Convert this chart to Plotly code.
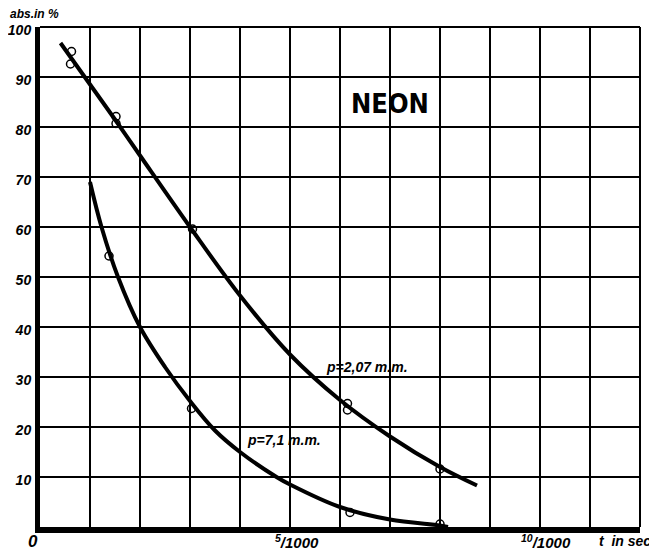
import plotly.graph_objects as go

# ---- data (x in 1/1000 s, y in % absorption) ----
curve_207_x = [0.41, 1.5, 2.0, 3.0, 4.0, 5.0, 6.0, 7.0, 8.0, 8.74]
curve_207_y = [96.8, 81.5, 74.3, 60.0, 46.3, 34.5, 25.4, 18.1, 12.0, 8.3]
pts_207_x = [0.63, 0.61, 1.52, 1.52, 3.05, 6.15, 6.15, 8.0]
pts_207_y = [95.1, 92.6, 82.1, 80.7, 59.6, 24.7, 23.4, 11.6]

curve_71_x = [1.0, 1.23, 1.56, 2.0, 2.5, 3.0, 3.5, 4.0, 4.73, 5.0, 6.0, 7.0, 8.0, 8.16]
curve_71_y = [69.0, 60.0, 50.0, 40.0, 32.0, 25.2, 19.3, 15.0, 10.0, 8.5, 4.0, 1.5, 0.3, 0.0]
pts_71_x = [1.38, 3.03, 6.2, 8.0]
pts_71_y = [54.2, 23.7, 2.9, 0.6]

y_tick_vals = [10, 20, 30, 40, 50, 60, 70, 80, 90, 100]
y_tick_text = [str(v) for v in y_tick_vals]
x_tick_vals = [0, 5, 10]
x_tick_text = ["0", "<sup>5</sup>/1000", "<sup>10</sup>/1000"]

FONT = "Liberation Sans"

fig = go.Figure()
for cx, cy in [(curve_207_x, curve_207_y), (curve_71_x, curve_71_y)]:
    fig.add_trace(go.Scatter(x=cx, y=cy, mode="lines",
                             line=dict(color="black", width=4, shape="spline", smoothing=1.0),
                             hoverinfo="skip", showlegend=False))
for px, py in [(pts_207_x, pts_207_y), (pts_71_x, pts_71_y)]:
    fig.add_trace(go.Scatter(x=px, y=py, mode="markers",
                             marker=dict(symbol="circle-open", size=8, color="black",
                                         line=dict(width=1.5, color="black")),
                             showlegend=False))

annotations = []
shifts = {0: (-7, "center", 17), 5: (-17, "left", 15), 10: (-21, "left", 15)}
for v, t in zip(x_tick_vals, x_tick_text):
    xs, anc, sz = shifts[v]
    annotations.append(dict(x=v, y=0, xref="x", yref="paper", text=t, showarrow=False,
                            xanchor=anc, yanchor="top", xshift=xs, yshift=-3,
                            font=dict(family=FONT, size=sz, color="black", style="italic", weight="bold")))
annotations += [
    dict(x=1, xref="paper", y=0, yref="paper", text="t  in sec", showarrow=False,
         xanchor="right", yanchor="top", xshift=13, yshift=-4,
         font=dict(family=FONT, size=14, color="black", style="italic", weight="bold")),
    dict(x=0, xref="paper", y=1, yref="paper", text="abs.in %", showarrow=False,
         xanchor="left", yanchor="middle", xshift=-32, yshift=13,
         font=dict(family=FONT, size=12, color="black", style="italic", weight="bold")),
    dict(x=6.99, y=84.7, xref="x", yref="y", text="NEON", showarrow=False,
         font=dict(family="DejaVu Sans Condensed, Liberation Sans", size=27, color="black", weight="bold")),
    dict(x=6.53, y=32.1, xref="x", yref="y", text="p=2,07 m.m.", showarrow=False,
         font=dict(family=FONT, size=14, color="black", style="italic", weight="bold")),
    dict(x=4.87, y=17.5, xref="x", yref="y", text="p=7,1 m.m.", showarrow=False,
         font=dict(family=FONT, size=14, color="black", style="italic", weight="bold")),
]

# page body has an 8px default margin, so the figure is sized to fit the window
fig.update_layout(
    width=649, height=547,
    margin=dict(l=32, r=17, t=19, b=28),
    paper_bgcolor="white", plot_bgcolor="white",
    annotations=annotations,
    shapes=[
        dict(type="line", xref="paper", yref="paper", x0=0, x1=1, y0=1, y1=1,
             line=dict(color="black", width=2)),
        dict(type="line", xref="paper", yref="paper", x0=1, x1=1, y0=0, y1=1,
             line=dict(color="black", width=2)),
    ],
)
fig.update_xaxes(range=[0, 12], dtick=1, showgrid=True, gridcolor="black", gridwidth=1.5,
                 showticklabels=False, ticks="", zeroline=False, automargin=False,
                 showline=True, linecolor="black", linewidth=6)
fig.update_yaxes(range=[0, 100], tickvals=y_tick_vals, ticktext=y_tick_text,
                 showgrid=True, gridcolor="black", gridwidth=1.5, ticks="", zeroline=False,
                 automargin=False,
                 showline=True, linecolor="black", linewidth=5, ticklabelstandoff=1,
                 ticklabelshift=3,
                 tickfont=dict(family=FONT, size=14, color="black", style="italic", weight="bold"))

fig.write_html("out.html")
